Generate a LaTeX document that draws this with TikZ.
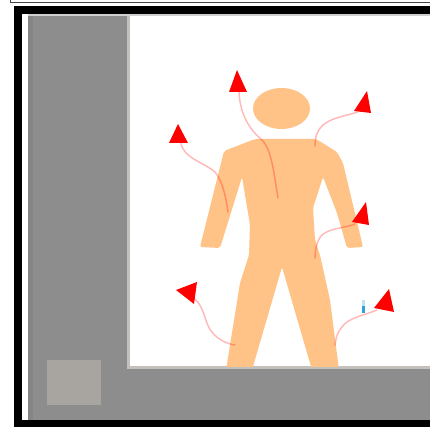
\documentclass[tikz,border=0pt]{standalone}
\definecolor{rulegray}{RGB}{70,70,70}
\definecolor{edgelight}{RGB}{208,208,208}
\definecolor{panelgray}{RGB}{141,141,141}
\definecolor{stripgray}{RGB}{133,133,133}
\definecolor{borderlight}{RGB}{196,193,188}
\definecolor{squaregray}{RGB}{168,164,159}
\definecolor{skincol}{RGB}{255,195,135}
\definecolor{bluelight}{RGB}{190,227,245}
\definecolor{bluedark}{RGB}{47,160,218}
\begin{document}
\begin{tikzpicture}[x=1pt,y=-1pt,
  skin/.style={fill=skincol},
  trail/.style={draw=red,opacity=0.27,line width=1.5pt,line cap=round},
  tip/.style={fill=red}]
\useasboundingbox (0,0) rectangle (430,427);
% outer thin rule along the top
\draw[line width=0.8pt,draw=rulegray] (10,0) -- (10,2.6) -- (430,2.6);
% window frame
\fill[black] (14,6) rectangle (430,427);
\fill[white] (22,14) rectangle (430,420);
\fill[edgelight] (28,14) rectangle (430,16);
\fill[panelgray] (28,16) rectangle (430,420);
\fill[stripgray] (28,16) rectangle (33,420);
% picture area
\fill[borderlight] (127,16) rectangle (430,369);
\fill[white] (130,16) rectangle (430,366);
% small square in the corner
\fill[squaregray] (47,360) rectangle (101,405);

\begin{scope}
\clip (130,16) rectangle (430,366);
% figure
\fill[skin] (281.5,108.5) ellipse [x radius=28.5, y radius=20.5];
\fill[skin, rounded corners=2pt]
  (224,151) -- (255,139) -- (316,139) -- (337,152) -- (343,163) -- (363,247)
  -- (347,248) -- (337,213) -- (323,177) -- (313,208) -- (315,240) -- (320,255)
  -- (330,300) -- (339,370) -- (312,370) -- (282,267) -- (252,370) -- (226,370)
  -- (240,283) -- (249,255) -- (250,225) -- (242,177) -- (220,248) -- (200,247)
  -- cycle;

% trails: each starts at its tip and ends on the figure
\coordinate (s1) at (239,92);  \coordinate (e1) at (278,198);
\coordinate (s2) at (181,143); \coordinate (e2) at (228,212);
\coordinate (s3) at (358,112); \coordinate (e3) at (315,146);
\coordinate (s4) at (355,224); \coordinate (e4) at (315,258);
\coordinate (s5) at (195,299); \coordinate (e5) at (235,345);
\coordinate (s6) at (377,310); \coordinate (e6) at (335,345);
\draw[trail] (s1) .. controls (240,115) and (250,130) .. (262,140) .. controls (272,150) and (274,175) .. (e1);
\draw[trail] (s2) .. controls (183,158) and (205,163) .. (215,172) .. controls (223,182) and (226,198) .. (e2);
\draw[trail] (s3) .. controls (345,116) and (330,118) .. (322,126) .. controls (316,132) and (315,140) .. (e3);
\draw[trail] (s4) .. controls (345,228) and (330,228) .. (322,235) .. controls (317,240) and (315,250) .. (e4);
\draw[trail] (s5) .. controls (205,308) and (205,325) .. (212,332) .. controls (218,340) and (228,344) .. (e5);
\draw[trail] (s6) .. controls (362,316) and (348,318) .. (342,327) .. controls (337,333) and (336,338) .. (e6);

% tips
\fill[tip] (237,70) -- (229,92) -- (247,92) -- cycle;
\fill[tip] (178,124) -- (169,143) -- (188,143) -- cycle;
\fill[tip] (367,91) -- (354,111) -- (371,113) -- cycle;
\fill[tip] (366,202) -- (352,222) -- (369,225) -- cycle;
\fill[tip] (176,290) -- (197,282) -- (194,304) -- cycle;
\fill[tip] (389,289) -- (374,308) -- (394,312) -- cycle;

% small blue mark
\fill[bluelight] (362,300) rectangle (364.5,306);
\fill[bluedark] (362,306) rectangle (364.5,313);
\end{scope}
\end{tikzpicture}
\end{document}
